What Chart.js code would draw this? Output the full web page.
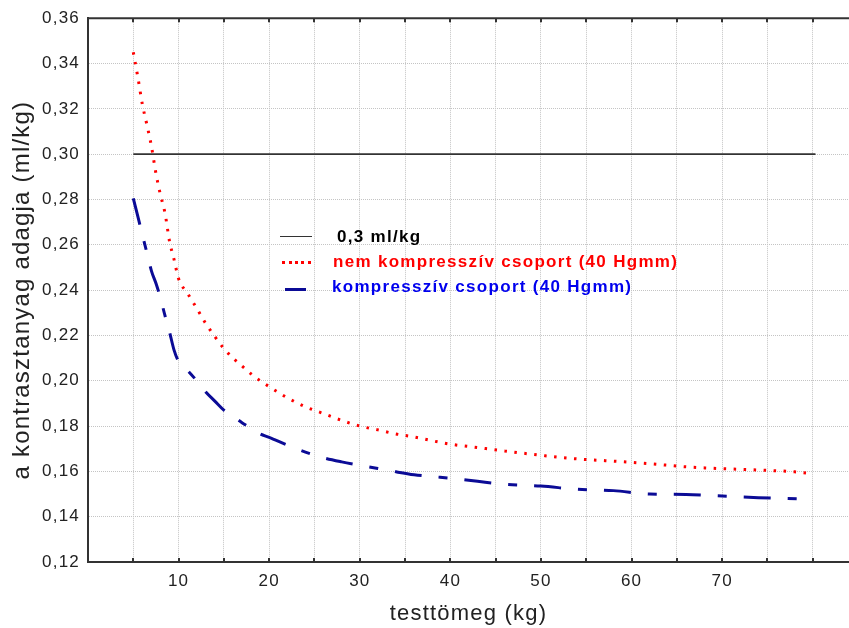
<!DOCTYPE html>
<html>
<head>
<meta charset="utf-8">
<script src="https://cdn.jsdelivr.net/npm/chart.js@4.4.1/dist/chart.umd.min.js"></script>
<style>
  html, body { margin: 0; padding: 0; background: #fff; }
  #wrap { position: relative; width: 849px; height: 628px; }
  #legend { position: absolute; left: 0; top: 0; font-family: "Liberation Sans", Arial, sans-serif; font-weight: bold; font-size: 17px; letter-spacing: 1.3px; }
  .item { position: absolute; white-space: nowrap; line-height: 20px; }
  .swatch { position: absolute; height: 0; }
</style>
</head>
<body>
<div id="wrap">
  <canvas id="grafico" width="849" height="628"></canvas>
  <div id="legend"></div>
</div>
<script>
// testtömeg (kg)
const xNemKomp = [5, 5.5, 6, 6.5, 7, 7.5, 8, 8.5, 9, 9.5, 10, 11, 12, 13, 14, 15, 16, 17, 18, 19, 20,
  22, 24, 26, 28, 30, 32, 34, 36, 38, 40, 43, 46, 50, 54, 58, 62, 66, 70, 74, 78, 80];
const yNemKomp = [0.345, 0.334, 0.322, 0.313, 0.3035, 0.2915, 0.282, 0.274, 0.2615, 0.2535, 0.245,
  0.2385, 0.232, 0.2252, 0.2195, 0.2142, 0.21, 0.2065, 0.203, 0.2, 0.1974,
  0.1925, 0.1885, 0.1855, 0.1825, 0.18, 0.1783, 0.1765, 0.1752, 0.1735, 0.172,
  0.1705, 0.169, 0.1671, 0.1655, 0.1645, 0.1634, 0.162, 0.1612, 0.1606, 0.1598, 0.159];

const xKomp = [5, 5.5, 6, 6.5, 7, 7.5, 8, 8.5, 9, 9.5, 10, 11, 12, 13, 14, 15, 16, 17, 18, 19, 20,
  22, 24, 26, 28, 30, 32, 34, 36, 38, 40, 43, 46, 50, 54, 58, 62, 66, 70, 74, 79];
const yKomp = [0.2805, 0.2725, 0.2645, 0.2565, 0.2485, 0.243, 0.2365, 0.2287, 0.2215, 0.2135, 0.2085,
  0.2045, 0.2, 0.195, 0.191, 0.187, 0.1843, 0.1815, 0.179, 0.1765, 0.175,
  0.1716, 0.1685, 0.166, 0.1642, 0.1627, 0.1613, 0.1598, 0.1585, 0.1577, 0.157,
  0.1556, 0.1543, 0.1535, 0.1521, 0.1515, 0.15, 0.1498, 0.1491, 0.1484, 0.1478];

const xHatar = [5, 80.3];
const yHatar = [0.3, 0.3];

const feliratok = ['0,3 ml/kg', 'nem kompresszív csoport (40 Hgmm)', 'kompresszív csoport (40 Hgmm)'];
const xTengelyCim = 'testtömeg (kg)';
const yTengelyCim = 'a kontrasztanyag adagja (ml/kg)';

const pontok = (xs, ys) => xs.map((x, i) => ({ x: x, y: ys[i] }));

// keret felső vonala es belső osztásjelek
const keretPlugin = {
    id: 'keret',
    beforeDraw(chart) {
        chart.ctx.letterSpacing = '1.2px';
    },
    afterDraw(chart) {
        const { ctx, chartArea, scales } = chart;
        ctx.save();
        ctx.strokeStyle = '#333';
        ctx.lineWidth = 2;
        ctx.beginPath();
        ctx.moveTo(chartArea.left - 1, chartArea.top);
        ctx.lineTo(chart.width, chartArea.top);
        ctx.stroke();
        scales.x.ticks.forEach(t => {
            const px = Math.round(scales.x.getPixelForValue(t.value));
            if (t.value === 0) return;
            ctx.beginPath();
            ctx.moveTo(px, chartArea.top);
            ctx.lineTo(px, chartArea.top + 4);
            ctx.moveTo(px, chartArea.bottom);
            ctx.lineTo(px, chartArea.bottom - 4);
            ctx.stroke();
        });
        ctx.restore();
    }
};

new Chart(document.getElementById('grafico'), {
    type: 'line',
    data: {
        datasets: [{
            label: feliratok[0],
            data: pontok(xHatar, yHatar),
            borderColor: '#333333',
            borderWidth: 1.6,
            pointRadius: 0
        }, {
            label: feliratok[1],
            data: pontok(xNemKomp, yNemKomp),
            borderColor: '#ff0000',
            borderWidth: 3,
            borderDash: [2.5, 7.5],
            cubicInterpolationMode: 'monotone',
            pointRadius: 0
        }, {
            label: feliratok[2],
            data: pontok(xKomp, yKomp),
            borderColor: '#0b0b96',
            borderWidth: 3,
            borderDash: [27, 17, 9, 17],
            cubicInterpolationMode: 'monotone',
            pointRadius: 0
        }]
    },
    options: {
        responsive: false,
        animation: false,
        devicePixelRatio: 1,
        layout: { padding: { top: 18, right: 0, left: 0, bottom: 0 } },
        plugins: { legend: { display: false }, tooltip: { enabled: false } },
        scales: {
            x: {
                type: 'linear',
                min: 0,
                max: 84,
                afterFit: s => { s.height = 66; },
                ticks: {
                    stepSize: 5,
                    includeBounds: false,
                    autoSkip: false,
                    maxRotation: 0,
                    padding: 9,
                    color: '#222',
                    font: { family: 'Liberation Sans, Arial', size: 17 },
                    callback: v => (v % 10 === 0 && v > 0 && v < 80) ? String(v) : ''
                },
                grid: { color: '#c4c4c4', lineWidth: 1, drawTicks: false },
                border: { color: '#333', width: 2, dash: [1, 1] },
                title: {
                    display: true,
                    text: xTengelyCim,
                    color: '#222',
                    font: { family: 'Liberation Sans, Arial', size: 22 },
                    padding: { top: 0, bottom: 1 }
                }
            },
            y: {
                min: 0.12,
                max: 0.36,
                afterFit: s => { s.width = 88; },
                ticks: {
                    stepSize: 0.02,
                    padding: 8,
                    color: '#222',
                    font: { family: 'Liberation Sans, Arial', size: 17 },
                    callback: v => v.toFixed(2).replace('.', ',')
                },
                grid: { color: '#c4c4c4', lineWidth: 1, drawTicks: false },
                border: { color: '#333', width: 2, dash: [1, 1] },
                title: {
                    display: true,
                    text: yTengelyCim,
                    color: '#222',
                    font: { family: 'Liberation Sans, Arial', size: 24 },
                    padding: { top: 8, bottom: 0 }
                }
            }
        }
    },
    plugins: [keretPlugin]
});

// jelmagyarazat a rajzterületen belül
const legendDef = [
    { text: feliratok[0], color: '#000', top: 227, textLeft: 337, sw: { left: 280, width: 32, top: 236, style: '1.5px solid #333' } },
    { text: feliratok[1], color: '#ff0000', top: 252, textLeft: 333, sw: { left: 282, width: 29, top: 261, style: '3px dotted #ff0000' } },
    { text: feliratok[2], color: '#0000ee', top: 277, textLeft: 332, sw: { left: 285, width: 21, top: 288, style: '3px solid #0b0b96' } }
];
const legendEl = document.getElementById('legend');
legendDef.forEach(d => {
    const sw = document.createElement('div');
    sw.className = 'swatch';
    sw.style.left = d.sw.left + 'px';
    sw.style.top = d.sw.top + 'px';
    sw.style.width = d.sw.width + 'px';
    sw.style.borderTop = d.sw.style;
    legendEl.appendChild(sw);
    const t = document.createElement('div');
    t.className = 'item';
    t.style.left = d.textLeft + 'px';
    t.style.top = d.top + 'px';
    t.style.color = d.color;
    t.textContent = d.text;
    legendEl.appendChild(t);
});
</script>
</body>
</html>
